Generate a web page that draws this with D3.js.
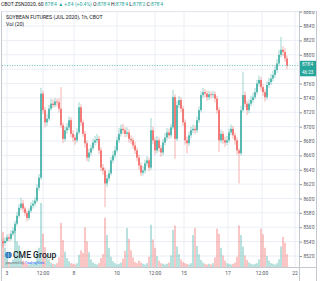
<!DOCTYPE html>
<html lang="en">
<head>
<meta charset="utf-8">
<script src="https://d3js.org/d3.v7.min.js"></script>
<style>
  body { margin: 0; background: #ffffff; }
  svg { display: block; font-family: Roboto, "Liberation Sans", sans-serif; }
</style>
</head>
<body>
<svg id="main" width="320" height="281"></svg>
<script>
// hourly closes, highs, lows (cents), open = previous close
const closes = [853.8,854.1,854.6,854.4,855.1,855.5,856.5,857.6,858.7,859.3,
  858.6,858.0,857.3,858.3,859.0,859.3,859.7,861.5,862.9,874.6,
  872.3,870.6,871.1,872.5,873.2,873.0,873.5,873.4,872.5,870.2,
  868.3,869.5,869.9,870.9,869.0,868.5,868.1,869.2,872.7,870.6,
  869.0,867.7,865.7,866.4,867.0,867.8,868.1,868.3,866.7,864.3,
  863.9,862.1,862.8,863.5,865.3,866.0,866.7,868.1,869.0,869.7,
  869.5,869.0,869.2,868.3,868.1,867.4,866.7,865.7,864.6,863.6,
  863.9,864.9,865.3,864.3,869.5,868.1,866.7,868.1,867.0,866.4,
  867.8,868.5,869.2,868.8,869.9,874.1,868.3,873.0,873.7,872.5,
  870.6,868.1,867.7,868.8,869.5,869.7,869.5,870.9,872.3,874.4,
  874.8,874.6,874.1,874.5,874.4,874.5,873.9,872.3,868.1,869.0,
  868.1,867.8,868.1,869.2,869.7,868.8,868.1,866.7,866.3,872.3,
  874.4,873.2,872.3,873.2,873.7,874.1,874.8,876.0,876.5,875.5,
  874.8,874.1,875.8,876.2,876.7,877.2,877.9,878.8,880.0,880.7,
  880.4,879.5,878.5];
const highs = [854.4,854.6,855.0,855.1,855.6,856.0,856.9,858.1,859.2,860.1,
  859.8,858.9,858.3,858.7,859.5,859.8,860.2,862.0,863.4,875.4,
  875.0,872.7,871.8,873.0,873.9,873.8,874.0,873.9,873.9,875.5,
  870.6,870.0,870.5,871.4,871.3,869.5,868.9,869.8,873.4,873.1,
  871.0,869.4,868.1,866.9,867.5,868.3,868.7,869.0,868.7,867.1,
  864.8,864.3,863.3,864.0,865.8,866.6,867.3,868.6,869.8,870.3,
  870.4,869.9,869.9,869.6,868.8,868.5,867.9,867.1,866.1,865.0,
  864.5,865.4,865.9,865.7,871.2,870.0,868.5,868.7,868.5,867.4,
  868.3,869.1,869.8,869.7,870.4,875.1,874.5,873.6,874.3,874.1,
  872.9,871.0,868.6,869.3,870.0,870.3,870.2,871.4,872.8,874.9,
  875.4,875.2,875.0,875.0,874.9,875.0,874.9,874.3,872.7,869.6,
  869.4,868.6,868.7,869.7,870.3,870.1,869.2,868.5,867.0,872.9,
  877.6,874.9,873.6,873.8,874.3,874.7,875.4,876.5,877.1,876.9,
  875.9,875.2,876.3,876.8,877.3,877.8,878.5,879.4,880.7,882.5,
  881.2,880.9,879.9];
const lows = [853.2,853.4,853.9,854.0,854.1,854.8,855.2,856.2,857.3,858.4,
  858.1,857.6,856.8,857.0,858.0,858.6,858.9,859.4,861.1,862.6,
  871.8,869.9,870.1,870.8,872.2,872.6,872.7,872.8,872.0,869.8,
  867.7,867.9,869.0,869.5,868.5,867.9,867.5,867.8,868.9,870.1,
  868.6,867.1,865.2,865.1,866.0,866.7,867.4,867.7,866.2,863.8,
  863.3,858.8,861.6,862.4,863.2,864.9,865.6,866.4,867.7,868.6,
  869.0,868.5,868.6,867.8,867.6,866.9,866.2,865.2,864.0,863.1,
  863.2,863.5,864.5,863.8,864.0,867.6,866.1,866.3,866.5,865.8,
  866.0,867.4,868.1,868.3,868.4,869.6,865.5,868.0,872.6,872.0,
  870.1,867.5,866.3,867.3,868.4,869.1,869.0,869.1,870.5,872.0,
  874.0,874.1,873.6,873.7,873.9,874.0,873.4,871.8,866.5,867.7,
  867.6,867.2,867.4,867.8,868.8,868.3,867.5,866.1,862.1,866.0,
  872.0,872.7,871.6,871.9,872.8,873.3,873.8,874.5,875.6,875.0,
  874.3,873.5,873.8,875.4,875.8,876.3,876.8,877.5,878.4,879.6,
  879.8,879.0,878.0];
const firstOpen = 854.0;
// volume, thousands of contracts
const volumes = [5.5,3.0,1.6,0.8,0.6,1.2,6.0,4.0,3.4,2.0,
  1.0,0.7,0.5,0.4,0.6,0.5,0.8,2.2,3.0,10.0,
  5.2,3.1,1.8,1.2,0.7,0.5,0.4,0.6,1.5,6.9,
  4.2,2.4,1.4,0.9,0.6,0.5,0.4,0.6,1.9,2.6,
  2.2,6.2,4.0,2.3,1.2,0.7,0.5,0.4,0.6,1.4,
  2.0,7.7,5.0,3.0,1.6,0.9,0.6,0.4,0.5,0.7,
  1.3,2.5,6.1,4.4,2.6,1.5,0.8,0.6,1.0,0.7,
  0.5,0.4,0.6,1.6,6.6,4.3,3.0,1.7,1.0,0.6,
  0.5,0.4,0.5,0.7,1.8,5.8,6.5,3.2,2.0,1.2,
  0.8,0.6,0.5,0.4,0.6,5.0,6.1,3.3,2.0,1.1,
  0.7,0.5,0.4,0.5,0.4,0.6,1.5,6.0,5.2,3.0,
  1.8,1.0,0.6,0.5,0.4,0.5,0.7,1.6,6.5,5.0,
  3.2,1.8,1.1,0.7,0.5,0.4,0.5,0.6,1.2,6.0,
  5.1,3.0,1.7,1.0,0.6,0.5,0.4,0.6,1.2,3.2,
  4.7,3.8,2.0];

const xTickLabels = ["3", "12:00", "8", "10", "12:00", "15", "17", "12:00", "22"];
const xTickBars = [2, 20, 35.5, 57, 76, 90.5, 112.5, 129.5, 146];
const priceTicks = d3.range(852, 887, 2);
const lastPrice = 878.5;

const up = "#26a69a", down = "#ef5350";
const fmt = p => {
  const whole = Math.floor(p), eighths = Math.round((p - whole) * 8);
  return whole + "'" + eighths;
};

const svg = d3.select("svg#main");
const paneL = 2, paneR = 299, paneT = 11, paneB = 267, axisR = 316;

const x = d3.scaleLinear().domain([0, closes.length - 1]).range([3, 287]);
const y = d3.scaleLinear().domain([852, 886]).range([256, 11.7]);
const yv = d3.scaleLinear().domain([0, 10]).range([paneB, 203]);

const bars = closes.map((c, i) => ({
  i: i, o: i === 0 ? firstOpen : closes[i - 1], c: c,
  h: highs[i], l: lows[i], v: volumes[i]
}));

const defs = svg.append("defs");
defs.append("clipPath").attr("id", "pane")
  .append("rect").attr("x", paneL).attr("y", paneT)
  .attr("width", paneR - paneL).attr("height", paneB - paneT);
defs.append("clipPath").attr("id", "axis")
  .append("rect").attr("x", paneR).attr("y", paneT)
  .attr("width", axisR - paneR).attr("height", paneB - paneT);

// grid
const grid = svg.append("g").attr("clip-path", "url(#pane)");
grid.selectAll(".hg").data(priceTicks).enter().append("line")
  .attr("x1", paneL).attr("x2", paneR)
  .attr("y1", d => y(d)).attr("y2", d => y(d))
  .attr("stroke", "#eaeef5").attr("stroke-width", 1);
grid.selectAll(".vg").data(xTickBars).enter().append("line")
  .attr("x1", d => x(d)).attr("x2", d => x(d))
  .attr("y1", paneT).attr("y2", paneB)
  .attr("stroke", "#eaeef5").attr("stroke-width", 1);

// volume
const plot = svg.append("g").attr("clip-path", "url(#pane)");
plot.selectAll(".vol").data(bars).enter().append("rect")
  .attr("x", d => x(d.i) - 0.8).attr("width", 1.6)
  .attr("y", d => yv(d.v)).attr("height", d => paneB - yv(d.v))
  .attr("fill", d => d.c >= d.o ? up : down).attr("opacity", 0.4);

// candles
plot.selectAll(".wick").data(bars).enter().append("line")
  .attr("x1", d => x(d.i)).attr("x2", d => x(d.i))
  .attr("y1", d => y(d.h)).attr("y2", d => y(d.l))
  .attr("stroke", d => d.c >= d.o ? up : down)
  .attr("stroke-width", 0.8).attr("opacity", 0.55);
plot.selectAll(".body").data(bars).enter().append("rect")
  .attr("x", d => x(d.i) - 0.7).attr("width", 1.4)
  .attr("y", d => y(Math.max(d.o, d.c)))
  .attr("height", d => Math.max(0.8, Math.abs(y(d.o) - y(d.c))))
  .attr("fill", d => d.c >= d.o ? up : down);

// last price line
plot.append("line")
  .attr("x1", paneL).attr("x2", paneR)
  .attr("y1", y(lastPrice)).attr("y2", y(lastPrice))
  .attr("stroke", up).attr("stroke-width", 0.7)
  .attr("stroke-dasharray", "1,1.5");

// frame
const frame = svg.append("g").attr("stroke", "#c5c8cf").attr("stroke-width", 1).attr("fill", "none");
frame.append("line").attr("x1", paneL - 0.5).attr("x2", paneL - 0.5).attr("y1", paneT).attr("y2", 281);
frame.append("line").attr("x1", paneL - 0.5).attr("x2", axisR).attr("y1", paneT + 0.5).attr("y2", paneT + 0.5)
  .attr("stroke", "#e4e6eb");
frame.append("line").attr("x1", paneR + 0.5).attr("x2", paneR + 0.5).attr("y1", paneT).attr("y2", 281);
frame.append("line").attr("x1", axisR + 0.5).attr("x2", axisR + 0.5).attr("y1", paneT).attr("y2", 281);
frame.append("line").attr("x1", paneL).attr("x2", axisR).attr("y1", paneB + 0.5).attr("y2", paneB + 0.5);

// price axis (labels under the last-price box are hidden, as on the chart)
const shownTicks = priceTicks.filter(d => Math.abs(y(d) - y(lastPrice)) > 6);
const yAxisWrap = svg.append("g").attr("clip-path", "url(#axis)");
const yAxis = yAxisWrap.append("g")
  .attr("transform", `translate(${paneR + 0.5},0)`)
  .call(d3.axisRight(y).tickValues(shownTicks).tickSize(2.5).tickPadding(1.5).tickFormat(fmt));
yAxis.select(".domain").remove();
yAxis.selectAll("line").attr("stroke", "#9598a1");
yAxis.selectAll("text").attr("font-size", 4.6).attr("fill", "#50535e")
  .attr("font-family", "Roboto, sans-serif");

// last price label
const lp = svg.append("g");
lp.append("rect").attr("x", paneR + 1).attr("y", y(lastPrice) - 4.8)
  .attr("width", axisR - paneR - 1).attr("height", 15.5).attr("fill", up);
lp.append("text").attr("x", paneR + 3).attr("y", y(lastPrice) + 0.8)
  .attr("font-size", 4.6).attr("fill", "#fff").text(fmt(lastPrice));
lp.append("text").attr("x", paneR + 3).attr("y", y(lastPrice) + 8.4)
  .attr("font-size", 4.6).attr("fill", "#fff").text("46:23");

// time axis
svg.append("g").selectAll("text").data(xTickBars).enter().append("text")
  .attr("x", d => x(d)).attr("y", 275).attr("text-anchor", "middle")
  .attr("font-size", 5).attr("fill", "#50535e")
  .text((d, i) => xTickLabels[i]);

// header and legend
const hdr = svg.append("text").attr("x", 1).attr("y", 6).attr("font-size", 5).attr("fill", "#131722");
hdr.append("tspan").text("CBOT:ZSN2020, 60 ");
hdr.append("tspan").attr("fill", up).text("878'4 \u25B2 +3'4 (+0.4%) ");
hdr.append("tspan").text("O:");
hdr.append("tspan").attr("fill", up).text("878'4 ");
hdr.append("tspan").text("H:");
hdr.append("tspan").attr("fill", up).text("878'4 ");
hdr.append("tspan").text("L:");
hdr.append("tspan").attr("fill", up).text("878'2 ");
hdr.append("tspan").text("C:");
hdr.append("tspan").attr("fill", up).text("878'4");

svg.append("text").attr("x", 6).attr("y", 18.5).attr("font-size", 5.2).attr("fill", "#131722")
  .text("SOYBEAN FUTURES (JUL 2020), 1h, CBOT");
svg.append("text").attr("x", 6).attr("y", 25.5).attr("font-size", 5.2).attr("fill", "#131722")
  .text("Vol (20)");

// logo
const logo = svg.append("g");
logo.append("circle").attr("cx", 8.5).attr("cy", 255).attr("r", 3.3).attr("fill", "#1f6fb8");
logo.append("path").attr("d", "M5.6,254 h5.8 M5.6,256 h5.8 M8.5,251.8 v6.4")
  .attr("stroke", "#cfe3f5").attr("stroke-width", 0.4);
logo.append("text").attr("x", 13).attr("y", 258).attr("font-size", 8.6)
  .attr("font-weight", 500).attr("fill", "#1b1f2a").text("CME Group");
const pw = logo.append("text").attr("x", 5.5).attr("y", 264).attr("font-size", 3.6).attr("fill", "#6a6d78");
pw.append("tspan").text("powered by ");
pw.append("tspan").attr("fill", "#2962ff").text("TradingView");
</script>
</body>
</html>
